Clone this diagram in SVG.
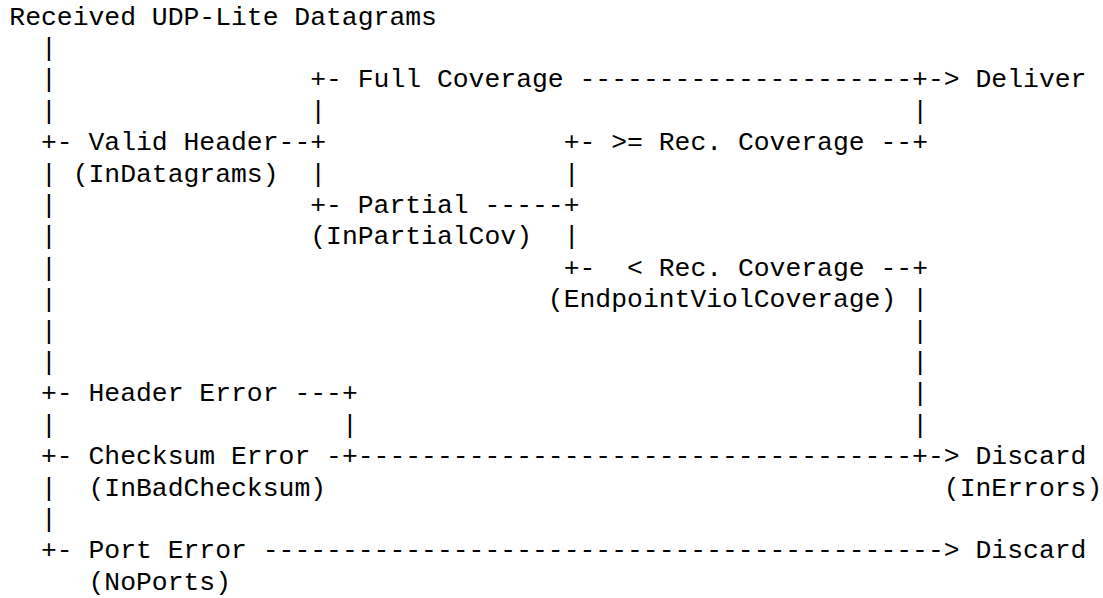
<svg xmlns="http://www.w3.org/2000/svg" width="1103" height="598" viewBox="0 0 1103 598">
<style>
text { font-family: "Liberation Mono", "Courier New", "DejaVu Sans Mono", monospace; font-size: 26.4px; fill: #000; white-space: pre; }
</style>
<rect width="1103" height="598" fill="#fff"/>
<g id="connectors">
  <text x="40.98" y="55.9">|</text>
  <text x="40.98" y="87.3">|</text>
  <text x="40.98" y="118.7">|</text>
  <text x="40.98" y="181.5">|</text>
  <text x="40.98" y="212.9">|</text>
  <text x="40.98" y="244.3">|</text>
  <text x="40.98" y="275.7">|</text>
  <text x="40.98" y="307.1">|</text>
  <text x="40.98" y="338.5">|</text>
  <text x="40.98" y="369.9">|</text>
  <text x="40.98" y="432.7">|</text>
  <text x="40.98" y="495.5">|</text>
  <text x="40.98" y="526.9">|</text>
  <text x="310.26" y="118.7">|</text>
  <text x="310.26" y="181.5">|</text>
  <text x="563.7" y="181.5">|</text>
  <text x="563.7" y="244.3">|</text>
  <text x="341.94" y="432.7">|</text>
  <text x="912.18" y="118.7">|</text>
  <text x="912.18" y="307.1">|</text>
  <text x="912.18" y="338.5">|</text>
  <text x="912.18" y="369.9">|</text>
  <text x="912.18" y="401.3">|</text>
  <text x="912.18" y="432.7">|</text>
  <text x="310.26" y="87.3">+-</text>
  <text x="579.54" y="87.3">---------------------+-&gt;</text>
  <text x="40.98" y="150.1">+-</text>
  <text x="278.58" y="150.1">--+</text>
  <text x="563.7" y="150.1">+-</text>
  <text x="880.5" y="150.1">--+</text>
  <text x="310.26" y="212.9">+-</text>
  <text x="484.5" y="212.9">-----+</text>
  <text x="563.7" y="275.7">+-</text>
  <text x="880.5" y="275.7">--+</text>
  <text x="40.98" y="401.3">+-</text>
  <text x="294.42" y="401.3">---+</text>
  <text x="40.98" y="464.1">+-</text>
  <text x="326.1" y="464.1">-+-----------------------------------+-&gt;</text>
  <text x="40.98" y="558.3">+-</text>
  <text x="262.74" y="558.3">-------------------------------------------&gt;</text>
</g>
<g id="node-received"><text x="9.3" y="24.5">Received UDP-Lite Datagrams</text></g>
<g id="node-full-coverage"><text x="357.78" y="87.3">Full Coverage</text></g>
<g id="node-deliver"><text x="975.54" y="87.3">Deliver</text></g>
<g id="node-valid-header"><text x="88.5" y="150.1">Valid Header</text><text x="72.66" y="181.5">(InDatagrams)</text></g>
<g id="node-ge-rec-coverage"><text x="611.22" y="150.1">&gt;= Rec. Coverage</text></g>
<g id="node-partial"><text x="357.78" y="212.9">Partial</text><text x="310.26" y="244.3">(InPartialCov)</text></g>
<g id="node-lt-rec-coverage"><text x="627.06" y="275.7">&lt; Rec. Coverage</text><text x="547.86" y="307.1">(EndpointViolCoverage)</text></g>
<g id="node-header-error"><text x="88.5" y="401.3">Header Error</text></g>
<g id="node-checksum-error"><text x="88.5" y="464.1">Checksum Error</text><text x="88.5" y="495.5">(InBadChecksum)</text></g>
<g id="node-discard-errors"><text x="975.54" y="464.1">Discard</text><text x="943.86" y="495.5">(InErrors)</text></g>
<g id="node-port-error"><text x="88.5" y="558.3">Port Error</text><text x="88.5" y="589.7">(NoPorts)</text></g>
<g id="node-discard-noports"><text x="975.54" y="558.3">Discard</text></g>
</svg>
